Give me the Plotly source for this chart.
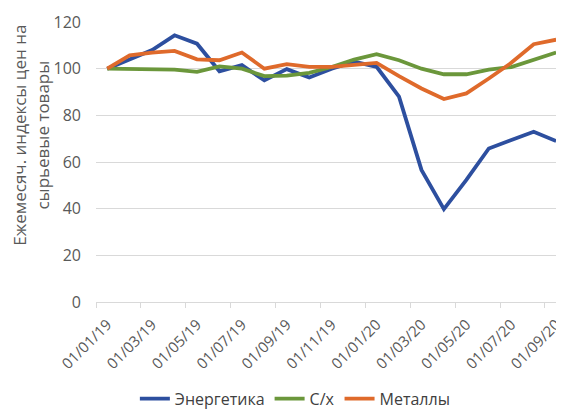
import plotly.graph_objects as go

months = ["01/01/19", "01/02/19", "01/03/19", "01/04/19", "01/05/19", "01/06/19", "01/07/19",
          "01/08/19", "01/09/19", "01/10/19", "01/11/19", "01/12/19", "01/01/20", "01/02/20",
          "01/03/20", "01/04/20", "01/05/20", "01/06/20", "01/07/20", "01/08/20", "01/09/20"]
energy = [100, 104, 108, 114.3, 110.7, 98.9, 101.5, 95, 99.8, 96.2, 100, 103, 100.8, 88,
          56.6, 39.8, 52.3, 65.8, 69.4, 73, 69]
agri = [100, 100, 99.6, 99.6, 98.6, 101, 100, 96.8, 97, 98.2, 100.7, 103.9, 106.2, 103.6,
        100, 97.6, 97.6, 99.6, 100.7, 103.9, 106.9]
metals = [100, 105.7, 106.9, 107.6, 104, 103.6, 106.9, 100, 101.9, 100.8, 100.8, 101.8, 102.5,
          96.8, 91.5, 87, 89.4, 95.8, 102.5, 110.5, 112.4]
series = [("Энергетика", energy, "#2D4F9F"),
          ("С/х", agri, "#6B973B"),
          ("Металлы", metals, "#DF6A2B")]
y_ticks = [0, 20, 40, 60, 80, 100, 120]
y_title = "Ежемесяч. индексы цен на<br>сырьевые товары"

xs = list(range(len(months)))
fig = go.Figure()
for name, vals, col in series:
    fig.add_trace(go.Scatter(x=xs, y=vals, mode="lines", name=name,
                             line=dict(color=col, width=3.8)))

font = "Open Sans, Liberation Sans, sans-serif"
fig.update_layout(
    width=556, height=402,
    margin=dict(l=87.5, r=0, t=14, b=108),
    paper_bgcolor="white", plot_bgcolor="white",
    font=dict(family=font, color="#595959"),
    showlegend=True,
    legend=dict(orientation="h", x=0.426, xanchor="center",
                yref="container", y=0.028, yanchor="middle",
                font=dict(size=16, color="#404040"), traceorder="normal"),
    xaxis=dict(range=[-0.5, 20.35], tickvals=xs[::2], ticktext=months[::2],
               tickangle=-45, tickfont=dict(size=15, color="#595959"),
               ticklabelstandoff=7, ticklabeloverflow="allow",
               showgrid=False, zeroline=False, showline=True, linecolor="#D9D9D9",
               ticks="", automargin=False,
               minor=dict(tickvals=[i - 0.5 for i in range(0, 21, 2)], ticks="outside",
                          ticklen=5, tickcolor="#D9D9D9", showgrid=False)),
    yaxis=dict(range=[0, 120], tickvals=y_ticks, tickfont=dict(size=16, color="#595959"),
               ticklabelstandoff=14,
               showgrid=True, gridcolor="#D9D9D9", gridwidth=1, zeroline=False,
               ticks="", showline=False, automargin=False),
    annotations=[dict(text=y_title, xref="paper", yref="paper", x=-0.1398, y=0.596,
                      xanchor="center", yanchor="middle", textangle=-90, showarrow=False,
                      align="center", font=dict(size=17, color="#595959"))],
)
fig.write_html("out.html")
